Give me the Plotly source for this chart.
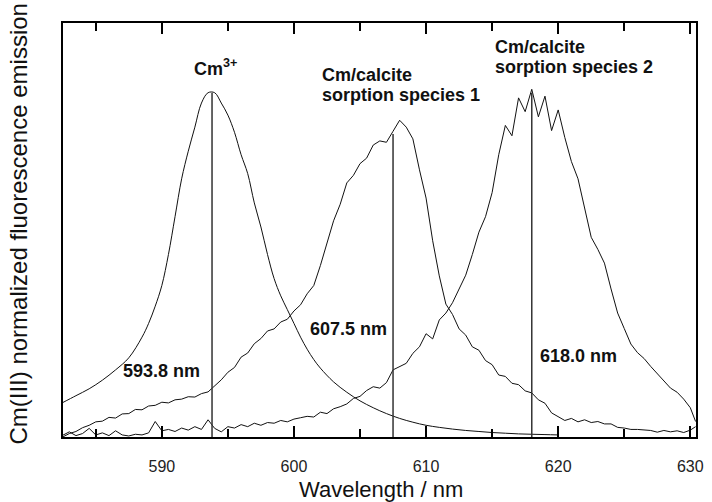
import plotly.graph_objects as go

# ---------------- data ----------------
# Cm3+ aquo ion emission (smooth band)
wl_cm = [582.5, 583.5, 584.5, 585.5, 586.5, 587.5, 588.5, 589.0, 589.5,
         590.0, 590.5, 591.0, 591.5, 592.0, 592.5, 593.0, 593.5, 594.0, 594.5,
         595.0, 595.5, 596.0, 596.5, 597.0, 597.5, 598.0, 598.5, 599.0, 599.5, 600.0,
         600.5, 601.0, 601.5, 602.0, 603.0, 604.0, 605.0, 606.0, 607.0, 608.0, 609.0, 610.0,
         611.0, 612.0, 613.0, 614.0, 615.0, 616.0, 617.0, 618.0, 619.0, 620.0]
int_cm = [0.10, 0.12, 0.14, 0.165, 0.195, 0.23, 0.29, 0.33, 0.38,
          0.44, 0.53, 0.64, 0.75, 0.83, 0.90, 0.97, 1.0, 1.0, 0.97,
          0.935, 0.885, 0.82, 0.765, 0.68, 0.61, 0.53, 0.46, 0.41, 0.37, 0.33,
          0.29, 0.255, 0.225, 0.20, 0.16, 0.13, 0.105, 0.085, 0.068, 0.054, 0.043, 0.034,
          0.028, 0.023, 0.019, 0.016, 0.013, 0.011, 0.009, 0.008, 0.007, 0.006]

# common wavelength grid for the two sorption species spectra
wl_sp = [582.5, 583.0, 583.5, 584.0, 584.5, 585.0, 585.5, 586.0, 586.5, 587.0,
         587.5, 588.0, 588.5, 589.0, 589.5, 590.0, 590.5, 591.0, 591.5, 592.0,
         592.5, 593.0, 593.5, 594.0, 594.5, 595.0, 595.5, 596.0, 596.5, 597.0,
         597.5, 598.0, 598.5, 599.0, 599.5, 600.0, 600.5, 601.0, 601.5, 602.0,
         602.5, 603.0, 603.5, 604.0, 604.5, 605.0, 605.5, 606.0, 606.5, 607.0,
         607.5, 608.0, 608.5, 609.0, 609.5, 610.0, 610.5, 611.0, 611.5, 612.0,
         612.5, 613.0, 613.5, 614.0, 614.5, 615.0, 615.5, 616.0, 616.5, 617.0,
         617.5, 618.0, 618.5, 619.0, 619.5, 620.0, 620.5, 621.0, 621.5, 622.0,
         622.5, 623.0, 623.5, 624.0, 624.5, 625.0, 625.5, 626.0, 626.5, 627.0,
         627.5, 628.0, 628.5, 629.0, 629.5, 630.0, 630.4]

# Cm/calcite sorption species 1
int_s1 = [0.000, 0.010, 0.016, 0.027, 0.034, 0.044, 0.046, 0.057, 0.055, 0.067,
          0.068, 0.080, 0.079, 0.090, 0.092, 0.101, 0.099, 0.108, 0.110, 0.117,
          0.116, 0.126, 0.131, 0.148, 0.166, 0.188, 0.202, 0.232, 0.244, 0.271,
          0.286, 0.308, 0.314, 0.334, 0.342, 0.366, 0.384, 0.416, 0.440, 0.498,
          0.560, 0.628, 0.676, 0.738, 0.760, 0.794, 0.810, 0.848, 0.860, 0.856,
          0.888, 0.920, 0.900, 0.866, 0.776, 0.694, 0.570, 0.468, 0.386, 0.356,
          0.314, 0.296, 0.262, 0.252, 0.222, 0.210, 0.180, 0.176, 0.156, 0.152,
          0.134, 0.128, 0.108, 0.098, 0.070, 0.060, 0.048, 0.054, 0.044, 0.050,
          0.042, 0.045, 0.038, 0.038, 0.028, 0.026, 0.022, 0.022, 0.020, 0.019,
          0.014, 0.019, 0.015, 0.018, 0.013, 0.020, 0.030]

# Cm/calcite sorption species 2
int_s2 = [0.005, 0.015, 0.004, 0.010, 0.025, 0.006, 0.012, 0.004, 0.018, 0.006,
          0.003, 0.008, 0.006, 0.012, 0.045, 0.018, 0.022, 0.016, 0.026, 0.020,
          0.030, 0.022, 0.050, 0.025, 0.015, 0.030, 0.026, 0.036, 0.030, 0.040,
          0.034, 0.042, 0.040, 0.048, 0.044, 0.052, 0.056, 0.060, 0.058, 0.072,
          0.068, 0.082, 0.088, 0.096, 0.112, 0.118, 0.135, 0.146, 0.142, 0.158,
          0.195, 0.205, 0.214, 0.243, 0.262, 0.300, 0.285, 0.340, 0.360, 0.390,
          0.430, 0.470, 0.530, 0.595, 0.640, 0.710, 0.820, 0.905, 0.875, 0.985,
          0.945, 1.010, 0.930, 0.990, 0.890, 0.950, 0.870, 0.800, 0.750, 0.665,
          0.580, 0.545, 0.505, 0.430, 0.360, 0.315, 0.270, 0.245, 0.228, 0.205,
          0.185, 0.165, 0.142, 0.130, 0.110, 0.085, 0.045]

# peak maxima markers
peak_wl = [593.8, 607.5, 618.0]
peak_h = [1.0, 0.88, 1.0]
peak_labels = ["593.8 nm", "607.5 nm", "618.0 nm"]
peak_label_x = [589.97, 604.11, 621.54]
peak_label_y = [0.193, 0.314, 0.236]

species_lines = [["Cm<sup>3+</sup>"],
                 ["Cm/calcite", "sorption species 1"],
                 ["Cm/calcite", "sorption species 2"]]
species_x = [592.25, 601.96, 615.04]
species_y = [[1.0747], [1.0514, 0.9933], [1.1327, 1.0747]]

x_title = "Wavelength / nm"
y_title = "Cm(III) normalized fluorescence emission"
tick_vals = [590, 600, 610, 620, 630]
x_range = [582.52, 630.43]
y_range = [0, 1.2025]

# ---------------- figure ----------------
FONT = "Liberation Sans, Arial, Helvetica, sans-serif"
INK = "#111111"

fig = go.Figure()
fig.add_trace(go.Scatter(x=wl_cm, y=int_cm, mode="lines",
                         line=dict(color=INK, width=1, shape="spline", smoothing=1.0),
                         hoverinfo="skip", showlegend=False))
fig.add_trace(go.Scatter(x=wl_sp, y=int_s1, mode="lines",
                         line=dict(color=INK, width=1),
                         hoverinfo="skip", showlegend=False))
fig.add_trace(go.Scatter(x=wl_sp, y=int_s2, mode="lines",
                         line=dict(color=INK, width=1),
                         hoverinfo="skip", showlegend=False))

vx, vy = [], []
for w, h in zip(peak_wl, peak_h):
    vx += [w, w, None]
    vy += [0, h, None]
# drawn on the top (mirror) x axis, which shares the same range
fig.add_trace(go.Scatter(x=vx, y=vy, mode="lines", xaxis="x2",
                         line=dict(color="#333333", width=1.5),
                         hoverinfo="skip", showlegend=False))

ann = []
for lbl, lx, ly in zip(peak_labels, peak_label_x, peak_label_y):
    ann.append(dict(x=lx, y=ly, xref="x", yref="y", text="<b>%s</b>" % lbl,
                    showarrow=False, xanchor="center", yanchor="middle",
                    font=dict(family=FONT, size=18, color=INK)))
for lines, sx, sys_ in zip(species_lines, species_x, species_y):
    for t, sy in zip(lines, sys_):
        ann.append(dict(x=sx, y=sy, xref="x", yref="y", text="<b>%s</b>" % t,
                        showarrow=False, xanchor="left", yanchor="middle",
                        font=dict(family=FONT, size=18, color=INK)))

# axis titles
ann.append(dict(x=0.502, y=-0.128, xref="paper", yref="paper", text=x_title,
                showarrow=False, xanchor="center", yanchor="middle",
                font=dict(family=FONT, size=22, color=INK)))
ann.append(dict(x=-0.0702, y=0.5145, xref="paper", yref="paper", text=y_title,
                showarrow=False, xanchor="center", yanchor="middle", textangle=-90,
                font=dict(family=FONT, size=24, color=INK)))

fig.update_layout(
    width=712, height=502,
    margin=dict(l=63, r=8, t=23, b=65),
    paper_bgcolor="white", plot_bgcolor="white",
    font=dict(family=FONT, color=INK),
    annotations=ann,
    showlegend=False,
    xaxis=dict(range=x_range, showline=True, linecolor="#000", linewidth=1.6, mirror=True,
               ticks="inside", ticklen=11, tickwidth=1.8, tickcolor="#000",
               tickmode="array", tickvals=tick_vals,
               minor=dict(ticks="inside", dtick=5, tick0=585, ticklen=8,
                          tickwidth=1.6, tickcolor="#000"),
               tickfont=dict(family=FONT, size=16, color="#222"),
               ticklabelstandoff=14, showgrid=False, zeroline=False),
    xaxis2=dict(range=x_range, overlaying="x", side="top", anchor="y",
                ticks="inside", ticklen=11, tickwidth=1.8, tickcolor="#000",
                tickmode="array", tickvals=tick_vals, showticklabels=False,
                minor=dict(ticks="inside", dtick=5, tick0=585, ticklen=8,
                           tickwidth=1.6, tickcolor="#000"),
                showgrid=False, zeroline=False),
    yaxis=dict(range=y_range, showline=True, linecolor="#000", linewidth=1.6,
               mirror=True, ticks="", showticklabels=False,
               showgrid=False, zeroline=False),
)

fig.write_html("out.html")
